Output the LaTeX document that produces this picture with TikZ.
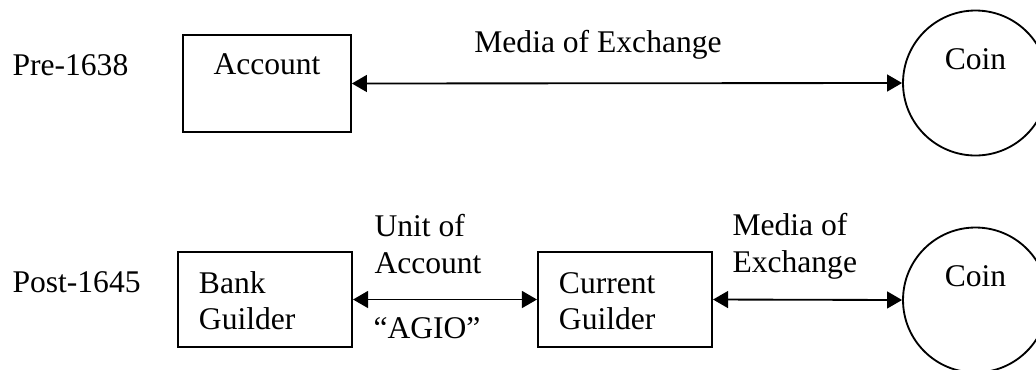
\documentclass[tikz,border=0pt]{standalone}
\usepackage{fontspec}
\setmainfont{Liberation Serif}
\usetikzlibrary{arrows.meta}

\begin{document}
\begin{tikzpicture}[x=0.38pt, y=-0.38pt,
    every node/.style={font=\fontsize{12pt}{13.7pt}\selectfont},
    box/.style={draw, line width=0.7pt, inner ysep=0pt},
    guilder/.style={box, align=left, text width=50.2pt, inner xsep=8pt, text height=15.6pt, text depth=20.5pt},
    coin/.style={draw, circle, line width=0.7pt, minimum size=55.1pt, text height=8pt, text depth=18.3pt},
    link/.style={<->, line width=0.7pt, >={Triangle[length=5.7pt, width=6.4pt]}}]

    % Fix the page size
    \useasboundingbox (0,0) rectangle (1036,369);

    % Row labels
    \node[anchor=base west, inner sep=0pt] (pre) at (12,75) {Pre-1638};
    \node[anchor=base west, inner sep=0pt] (post) at (12,292) {Post-1645};

    % Top row: account and coin
    \node[box, minimum width=63.8pt, text height=15.2pt, text depth=21.7pt] (account) at (267,83.5) {Account};
    \node[coin] (topcoin) at (975.5,83) {Coin};
    \draw[link] (account.east) -- (topcoin.west);
    \node[anchor=base, inner sep=0pt] (mediatop) at (598,52) {Media of Exchange};

    % Bottom row: bank guilder, current guilder and coin
    \node[guilder] (bank) at (265,299.5) {Bank\\Guilder};
    \node[guilder] (current) at (625,299.5) {Current\\Guilder};
    \node[coin] (botcoin) at (975.5,300) {Coin};

    % Arrows and their labels (base = last line)
    \draw[link] (bank.east) -- (current.west);
    \draw[link] (current.east) -- (botcoin.west);
    \node[anchor=base west, align=left, inner sep=0pt] (unit) at (374,273) {Unit of\\Account};
    \node[anchor=base west, inner sep=0pt] (agio) at (373,338) {“AGIO”};
    \node[anchor=base west, align=left, inner sep=0pt] (mediabot) at (732,272) {Media of\\Exchange};
\end{tikzpicture}
\end{document}
